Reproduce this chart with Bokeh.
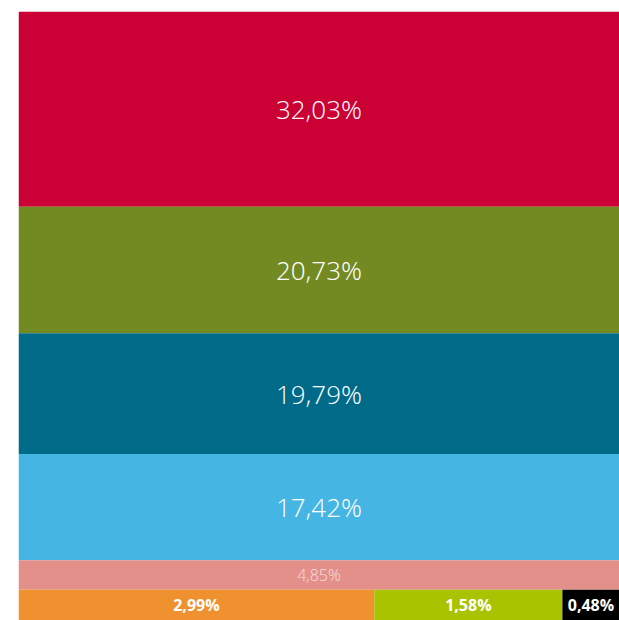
import numpy as np
from bokeh.plotting import figure
from bokeh.models import ColumnDataSource, Range1d
from bokeh.core.properties import value
from bokeh.embed import file_html
from bokeh.resources import INLINE

# Data
row_values = [32.03, 20.73, 19.79, 17.42, 4.85]
row_labels = ["32,03%", "20,73%", "19,79%", "17,42%", "4,85%"]
row_colors = ["#CB0034", "#738A23", "#006A89", "#45B5E4", "#E3908B"]

small_values = [2.99, 1.58, 0.48]
small_labels = ["2,99%", "1,58%", "0,48%"]
small_colors = ["#F0912F", "#AAC300", "#000000"]

FULL = 100.0

# stacked rows (full width)
rv = np.array(row_values)
row_bottom_edge = np.cumsum(rv)
row_top_edge = row_bottom_edge - rv
rows = ColumnDataSource(dict(
    left=[0.0] * len(rv), right=[FULL] * len(rv),
    top=row_top_edge, bottom=row_bottom_edge,
    color=row_colors, label=row_labels,
    xc=[FULL / 2] * len(rv), yc=(row_top_edge + row_bottom_edge) / 2,
))

# bottom row split side by side
sv = np.array(small_values)
y0 = rv.sum()
y1 = y0 + sv.sum()
sright = np.cumsum(sv) / sv.sum() * FULL
sleft = sright - sv / sv.sum() * FULL
smalls = ColumnDataSource(dict(
    left=sleft, right=sright, top=[y0] * len(sv), bottom=[y1] * len(sv),
    color=small_colors, label=small_labels,
    xc=(sleft + sright) / 2, yc=[(y0 + y1) / 2] * len(sv),
))

total_all = y1

p = figure(width=619, height=620, output_backend="svg", toolbar_location=None,
           x_range=Range1d(0, FULL), y_range=Range1d(total_all, 0),
           min_border_left=18, min_border_top=11, min_border_right=0, min_border_bottom=0)
p.axis.visible = False
p.grid.visible = False
p.outline_line_color = None
p.background_fill_color = "white"
p.border_fill_color = "white"

p.quad(left="left", right="right", top="top", bottom="bottom", color="color",
       line_color=None, source=rows)
p.quad(left="left", right="right", top="top", bottom="bottom", color="color",
       line_color=None, source=smalls)

big = ColumnDataSource(dict(x=rows.data["xc"][:4], y=rows.data["yc"][:4], t=row_labels[:4]))
p.text(x="x", y="y", text="t", source=big, text_color="white",
       text_font=value("Open Sans Light"), text_font_size="26px",
       text_align="center", text_baseline="middle")

pink = ColumnDataSource(dict(x=rows.data["xc"][4:], y=rows.data["yc"][4:], t=row_labels[4:]))
p.text(x="x", y="y", text="t", source=pink, text_color="white", text_alpha=0.7,
       text_font=value("Open Sans Light"), text_font_size="16px",
       text_align="center", text_baseline="middle")

p.text(x="xc", y="yc", text="label", source=smalls, text_color="white",
       text_font=value("Open Sans"), text_font_size="16px", text_font_style="bold",
       text_align="center", text_baseline="middle")

open("out.html", "w").write(file_html(p, INLINE))
